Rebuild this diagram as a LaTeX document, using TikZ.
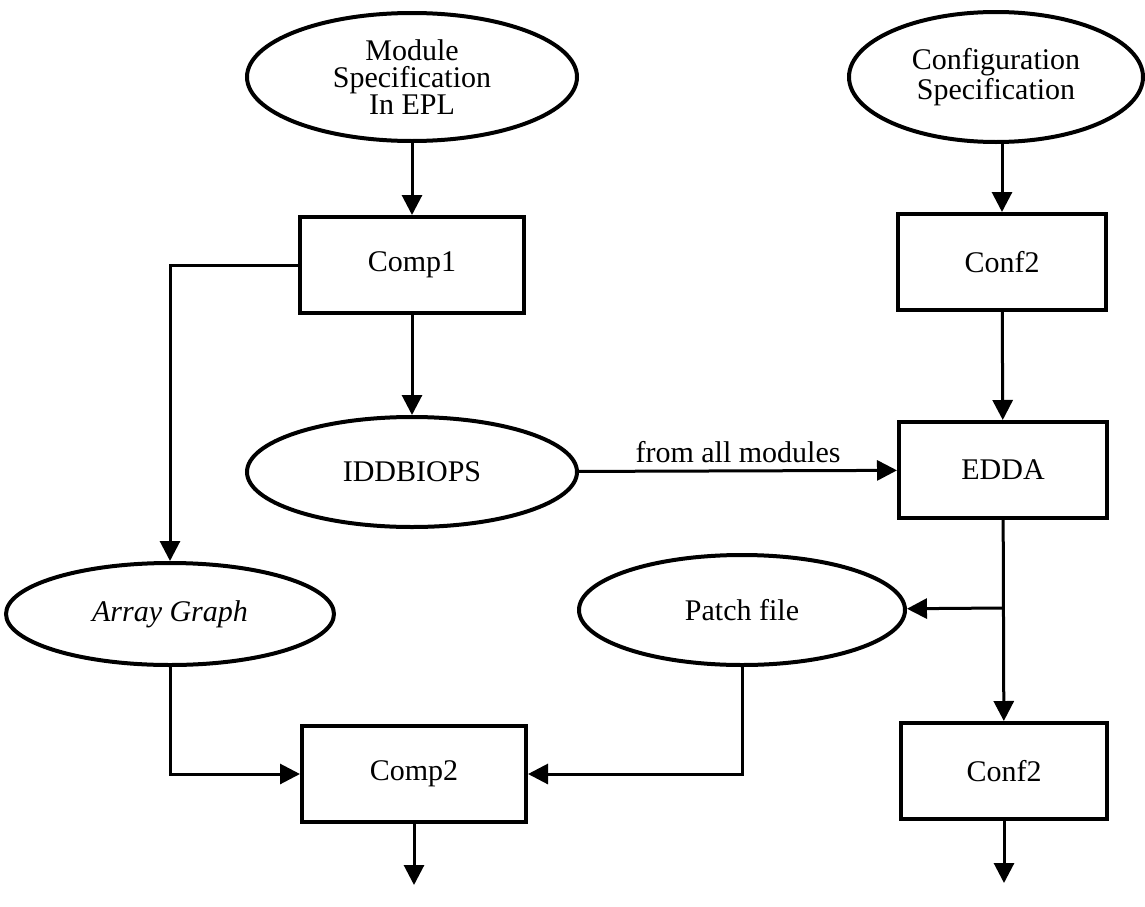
\documentclass[tikz,border=0pt]{standalone}
\usepackage{fontspec}
\setmainfont{Liberation Serif}
\usepackage{tikz}
\usetikzlibrary{arrows.meta,shapes}

\begin{document}
\begin{tikzpicture}[scale=0.5,
  >={Triangle[length=10bp,width=10bp]},
  every node/.style={font=\fontsize{15bp}{13.5bp}\selectfont},
  blob/.style={draw,ellipse,line width=2bp,inner sep=0pt,align=center},
  proc/.style={draw,rectangle,line width=2bp,inner sep=0pt,minimum height=48bp},
  link/.style={->,line width=1.5bp}]
\useasboundingbox (0bp,0bp) rectangle (1145bp,-907bp);
\node (modspec) at (412bp,-77bp)[blob,minimum width=165bp,minimum height=64bp] {Module\\Specification\\In EPL};
\node (comp1) at (412bp,-265bp)[proc,minimum width=112bp] {Comp1};
\node (iddbiops) at (412bp,-472bp)[blob,minimum width=165bp,minimum height=55bp] {IDDBIOPS};
\node (arraygraph) at (170bp,-614bp)[blob,minimum width=164bp,minimum height=51bp] {\itshape Array Graph};
\node (comp2) at (414bp,-774bp)[proc,minimum width=112bp] {Comp2};
\node (confspec) at (996bp,-77bp)[blob,minimum width=147bp,minimum height=65bp] {Configuration\\Specification};
\node (conf2a) at (1002bp,-262bp)[proc,minimum width=104bp] {Conf2};
\node (edda) at (1003bp,-470bp)[proc,minimum width=104bp] {EDDA};
\node (patch) at (742bp,-610bp)[blob,minimum width=163bp,minimum height=55bp] {Patch file};
\node (conf2b) at (1004bp,-771bp)[proc,minimum width=103bp] {Conf2};
\coordinate (split) at (1003bp,-608bp);
\coordinate (out1) at (414bp,-885bp);
\coordinate (out2) at (1004bp,-883bp);
\draw [link] (modspec) -- (comp1);
\draw [link] (comp1.west) -| (arraygraph.north);
\draw [link] (comp1) -- (iddbiops);
\draw [link] (iddbiops) -- node[above] {from all modules} (edda);
\draw [link] (confspec.south -| conf2a) -- (conf2a);
\draw [link] (conf2a) -- (edda);
\draw [link] (edda) -- (conf2b);
\draw [link] (split) -- (patch);
\draw [link] (arraygraph.south) |- (comp2.west);
\draw [link] (patch.south) |- (comp2.east);
\draw [link] (comp2) -- (out1);
\draw [link] (conf2b) -- (out2);
\end{tikzpicture}
\end{document}
